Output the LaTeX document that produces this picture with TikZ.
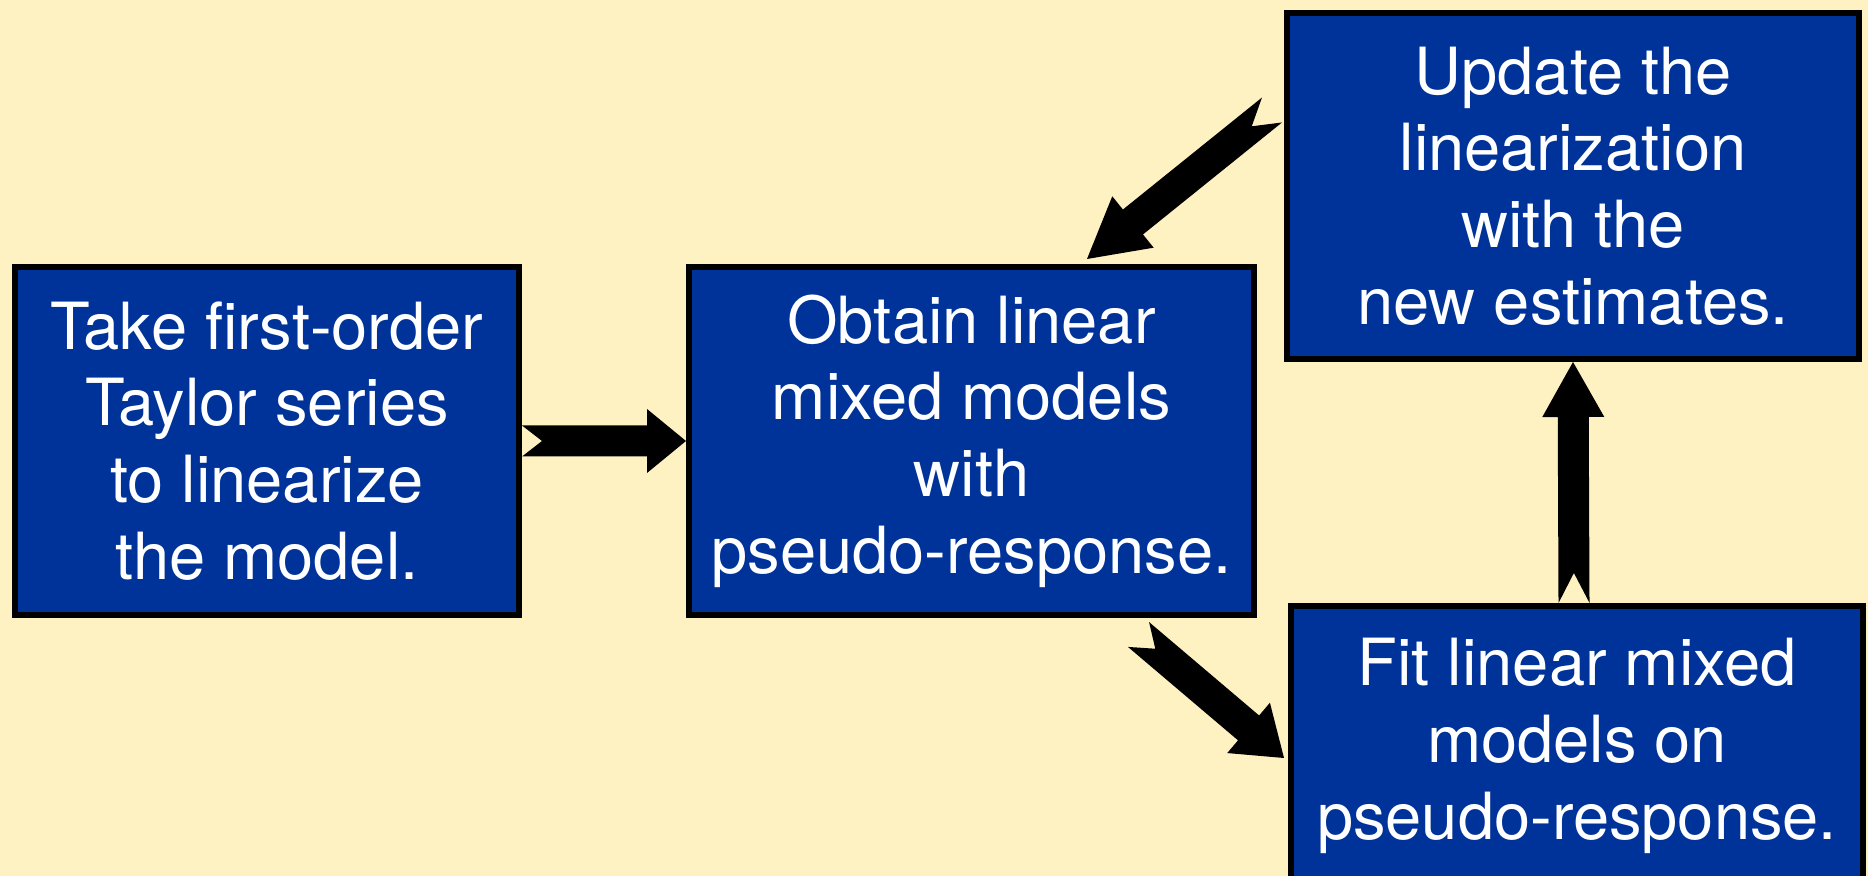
\documentclass[tikz,border=0pt]{standalone}
\usepackage{fontspec}
\setmainfont{TeX Gyre Heros}
\usetikzlibrary{positioning,calc}

\definecolor{bgcream}{HTML}{FFF2C2}
\definecolor{boxblue}{HTML}{003399}

% thick block arrow with a notched tail:
% #1 tail, #2 tip, #3 half shaft width, #4 half head width, #5 head length, #6 notch depth
\newcommand{\fatarrow}[6]{%
  \coordinate (neck) at ($(#2)!#5!(#1)$);
  \coordinate (notch) at ($(#1)!#6!(#2)$);
  \fill ($(#1)!#3!90:(#2)$) -- ($(neck)!#3!90:(#2)$) -- ($(neck)!#4!90:(#2)$)
    -- (#2) -- ($(neck)!#4!-90:(#2)$) -- ($(neck)!#3!-90:(#2)$)
    -- ($(#1)!#3!-90:(#2)$) -- (notch) -- cycle;
}

\tikzset{
  stepbox/.style={draw=black,fill=boxblue,line width=0.06cm,text=white,
    align=center,inner sep=0pt,font=\fontsize{18.5pt}{21.8pt}\selectfont},
}

\begin{document}
\begin{tikzpicture}
  \useasboundingbox (0,0) rectangle (18.68,-8.76);
  \clip (0,0) rectangle (18.68,-8.76);
  \fill[bgcream] (0,0) rectangle (18.68,-8.76);

  \node[stepbox,minimum width=5.04cm,minimum height=3.48cm] (taylor) at (2.67,-4.41)
    {Take first-order\\Taylor series\\to linearize\\the model.};
  \node[stepbox,minimum width=5.65cm,minimum height=3.48cm] (obtain) [right=1.64cm of taylor]
    {Obtain linear\\mixed models\\with\\pseudo-response.};
  \node[stepbox,minimum width=5.72cm,minimum height=3.46cm] (update) at (15.73,-1.86)
    {Update the\\linearization\\with the\\new estimates.};
  \node[stepbox,minimum width=5.72cm,minimum height=2.8cm] (fit) at (15.77,-7.46)
    {Fit linear mixed\\models on\\pseudo-response.};

  % connectors
  \fatarrow{taylor.east}{obtain.west}{0.155cm}{0.32cm}{0.39cm}{0.2cm}
  \coordinate (updtail) at ($(update.west)+(-0.12,0.76)$);
  \coordinate (updtip) at ($(obtain.north)+(1.155,0.05)$);
  \fatarrow{updtail}{updtip}{0.16cm}{0.33cm}{0.59cm}{0.26cm}
  \coordinate (fittail) at ($(obtain.south)+(1.67,-0.165)$);
  \coordinate (fittip) at ($(fit.west)+(-0.04,-0.12)$);
  \fatarrow{fittail}{fittip}{0.163cm}{0.33cm}{0.465cm}{0.22cm}
  \coordinate (looptail) at ($(fit.north)+(-0.03,0)$);
  \fatarrow{looptail}{update.south}{0.155cm}{0.31cm}{0.55cm}{0.3cm}
\end{tikzpicture}
\end{document}
